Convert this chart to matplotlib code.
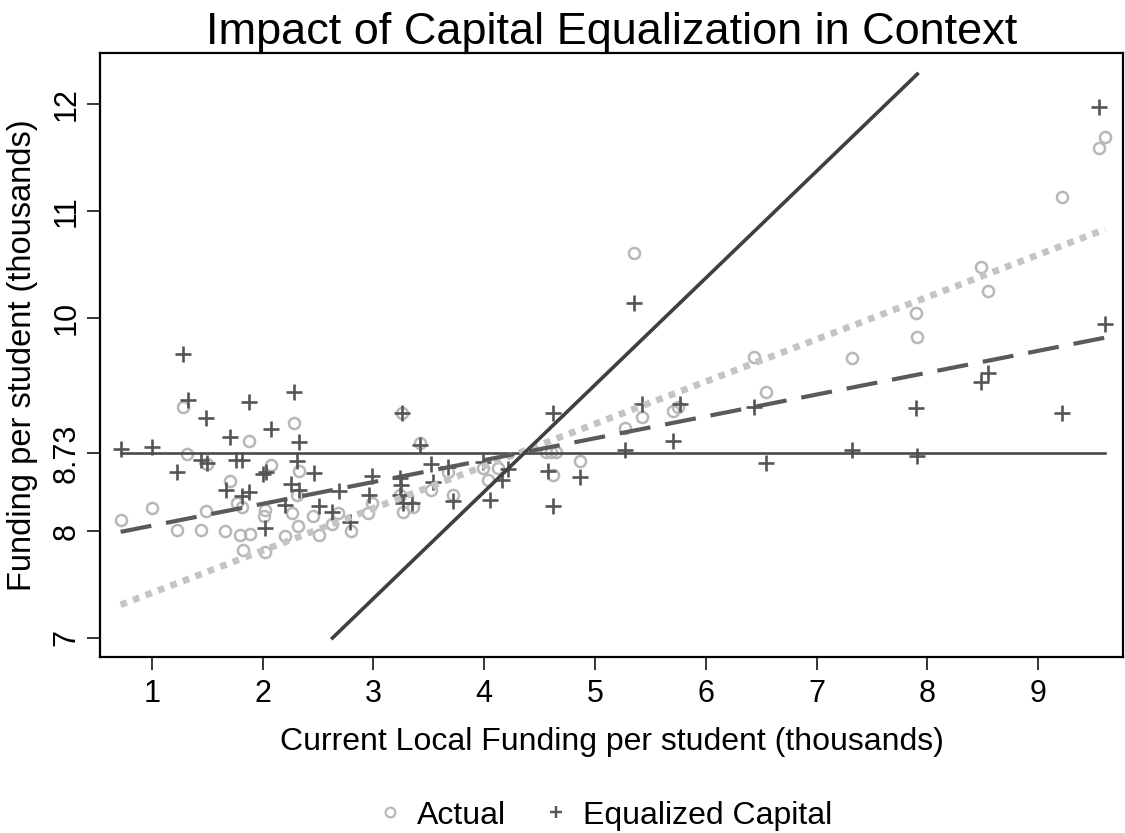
import numpy as np
import matplotlib
matplotlib.use("Agg")
import matplotlib.pyplot as plt
from matplotlib.lines import Line2D

plt.rcParams['font.family'] = ['Liberation Sans', 'DejaVu Sans']

# ---------------- data ----------------
actual_x = [0.717, 1.000, 1.223, 1.283, 1.313, 1.440, 1.494, 1.490, 1.662, 1.709, 1.765, 1.815, 1.795, 1.824,
            1.885, 1.876, 2.020, 2.014, 2.020, 2.075, 2.285, 2.327, 2.307, 2.261, 2.201, 2.321, 2.456, 2.511,
            2.628, 2.682, 2.797, 2.953, 2.984, 3.260, 3.420, 3.239, 3.269, 3.359, 3.519, 3.675, 3.721, 3.992,
            4.127, 4.037, 4.558, 4.603, 4.648, 4.623, 4.865, 5.271, 5.355, 5.422, 5.707, 5.750, 6.433, 6.544,
            7.318, 7.896, 7.910, 8.489, 8.552, 9.217, 9.549, 9.606]
actual_y = [8.105, 8.214, 8.011, 9.166, 8.723, 8.008, 8.626, 8.192, 7.999, 8.468, 8.267, 8.229, 7.964, 7.824,
            7.974, 8.845, 8.199, 8.142, 7.808, 8.620, 9.010, 8.566, 8.339, 8.168, 7.955, 8.052, 8.142, 7.964,
            8.067, 8.168, 8.005, 8.168, 8.261, 9.110, 8.823, 8.339, 8.183, 8.224, 8.386, 8.557, 8.339, 8.589,
            8.595, 8.479, 8.744, 8.744, 8.744, 8.526, 8.660, 8.969, 10.602, 9.072, 9.125, 9.160, 9.634, 9.301,
            9.625, 10.040, 9.816, 10.477, 10.252, 11.132, 11.585, 11.694]

equal_x = [0.720, 1.003, 1.223, 1.283, 1.322, 1.442, 1.485, 1.494, 1.664, 1.706, 1.758, 1.810, 1.810, 1.879,
           1.876, 2.005, 2.027, 2.020, 2.072, 2.285, 2.327, 2.307, 2.252, 2.327, 2.201, 2.463, 2.511, 2.628,
           2.691, 2.788, 2.959, 2.986, 3.260, 3.420, 3.239, 3.248, 3.239, 3.269, 3.345, 3.519, 3.540, 3.672,
           3.721, 3.992, 4.217, 4.157, 4.052, 4.578, 4.623, 4.618, 4.865, 5.271, 5.355, 5.422, 5.768, 5.707,
           6.433, 6.544, 7.318, 7.896, 7.908, 8.483, 8.552, 9.217, 9.549, 9.603]
equal_y = [8.767, 8.786, 8.551, 9.656, 9.228, 8.667, 9.063, 8.641, 8.381, 8.879, 8.667, 8.667, 8.332, 8.370,
           9.213, 8.533, 8.554, 8.027, 8.960, 9.301, 8.832, 8.657, 8.439, 8.386, 8.245, 8.542, 8.236, 8.180,
           8.376, 8.089, 8.339, 8.517, 9.110, 8.807, 8.501, 8.433, 8.339, 8.261, 8.261, 8.629, 8.458, 8.604,
           8.283, 8.651, 8.580, 8.479, 8.292, 8.566, 9.104, 8.236, 8.505, 8.760, 10.140, 9.188, 9.188, 8.847,
           9.166, 8.641, 8.760, 9.151, 8.707, 9.400, 9.478, 9.104, 11.969, 9.937]

mean_level = 8.73                 # statewide mean funding (horizontal reference)
fit_actual = (7.027, 0.3956)      # intercept, slope of fit to Actual
fit_equal = (7.847, 0.2046)       # intercept, slope of fit to Equalized Capital
equalize_line = (4.37, 1.0)       # intercept, slope of 45-degree line
equalize_y_range = [7.0, 12.28]

x_ticks = [1, 2, 3, 4, 5, 6, 7, 8, 9]
y_ticks = [7, 8, 8.73, 10, 11, 12]
y_tick_labels = ["7", "8", "8.73", "10", "11", "12"]

# ---------------- figure ----------------
fig = plt.figure(figsize=(11.25, 8.33), dpi=100)
ax = fig.add_axes([0.0893, 0.2113, 0.9085, 0.7254])

light = '#b8b8b8'
dark = '#555555'

ax.plot(actual_x, actual_y, linestyle='none', marker='o', ms=8, mfc='none', mec=light, mew=1.8, zorder=3)
ax.plot(equal_x, equal_y, linestyle='none', marker='+', ms=11, mec=dark, mew=1.9, zorder=4)

xr = np.array([min(actual_x), max(actual_x)])
# horizontal mean line
ax.plot(xr, [mean_level, mean_level], color='#4a4a4a', lw=1.9, zorder=5)
# actual fit (dotted light)
ax.plot(xr, fit_actual[0] + fit_actual[1] * xr, color='#c4c4c4', lw=4.8,
        linestyle=(0, (1.0, 1.0)), dash_capstyle='butt', zorder=5)
# equalized fit (dashed dark)
ax.plot(xr, fit_equal[0] + fit_equal[1] * xr, color='#5a5a5a', lw=3.0,
        linestyle=(0, (7.5, 3.6)), dash_capstyle='butt', zorder=5)
# 45-degree line
ey = np.array(equalize_y_range)
ax.plot((ey - equalize_line[0]) / equalize_line[1], ey, color='#404040', lw=2.6, zorder=5)

ax.set_xlim(0.535, 9.763)
ax.set_ylim(6.822, 12.48)

ax.set_xticks(x_ticks)
ax.set_xticklabels([str(t) for t in x_ticks])
ax.set_yticks(y_ticks)
ax.set_yticklabels(y_tick_labels, rotation=90, va='center')
ax.tick_params(axis='both', direction='out', length=9.5, width=1.1, labelsize=22, color='black', pad=6)
ax.tick_params(axis='y', pad=4)

for s in ax.spines.values():
    s.set_linewidth(1.6)
    s.set_color('black')

ax.set_title("Impact of Capital Equalization in Context", fontsize=32.5, pad=1)
ax.set_xlabel("Current Local Funding per student (thousands)", fontsize=23, labelpad=13)
ax.set_ylabel("Funding per student (thousands)", fontsize=23.5, labelpad=10)

handles = [Line2D([], [], linestyle='none', marker='o', ms=7, mfc='none', mec=light, mew=1.6),
           Line2D([], [], linestyle='none', marker='+', ms=9, mec=dark, mew=1.7)]
fig.legend(handles, ["Actual", "Equalized Capital"], loc='center', bbox_to_anchor=(0.536, 0.021),
           ncol=2, frameon=False, fontsize=23, handletextpad=0.35, columnspacing=1.06, handlelength=1.0)

fig.savefig("out.png", dpi=100)
